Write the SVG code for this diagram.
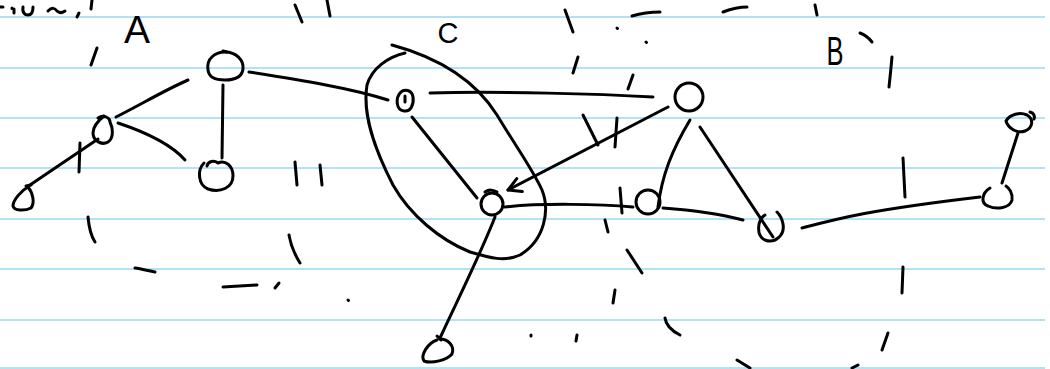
<svg xmlns="http://www.w3.org/2000/svg" width="1050" height="369" viewBox="0 0 1050 369">
<style>
.rule{stroke:#b2e2f4;stroke-width:2;fill:none}
.ink{stroke:#000;stroke-width:3;fill:none;stroke-linecap:round;stroke-linejoin:round}
.lbl{font-family:"Liberation Sans",Arial,sans-serif;fill:#000;text-anchor:middle}
</style>
<defs>
<marker id="arr" markerWidth="20" markerHeight="20" refX="16" refY="10" orient="auto" markerUnits="userSpaceOnUse" overflow="visible">
<path d="M4,2 L16,10 L3,16" stroke="#000" stroke-width="3" fill="none" stroke-linecap="round" stroke-linejoin="round"/>
</marker>
</defs>
<rect width="1050" height="369" fill="#fff"/>
<g id="paper">
<line class="rule" x1="0" y1="17" x2="1045" y2="17"/>
<line class="rule" x1="0" y1="68" x2="1045" y2="68"/>
<line class="rule" x1="0" y1="118" x2="1045" y2="118"/>
<line class="rule" x1="0" y1="168" x2="1045" y2="168"/>
<line class="rule" x1="0" y1="219" x2="1045" y2="219"/>
<line class="rule" x1="0" y1="269" x2="1045" y2="269"/>
<line class="rule" x1="0" y1="320" x2="1045" y2="320"/>
<line class="rule" x1="0" y1="368" x2="1045" y2="368"/>
</g>
<g id="scribble" class="ink">
<path d="M0,7 L3,7"/>
<path d="M12,8 L12,8.5"/>
<path d="M14,9 L14,13"/>
<path d="M23,7 C22,13 25,15 28,15 C32,15 33,12 33,7"/>
<path d="M48,11 C52,7 55,8 57,11 C59,13 62,13 65,11"/>
<path d="M79,13 L77,17"/>
<path d="M92,0 L91,9"/>
</g>
<g id="clusterA">
<g class="ink">
<path d="M97,48 L91,65"/>
<path d="M80,143 L79,172"/>
<path d="M88,217 C89,228 91,236 95,242"/>
<path d="M135,268 C142,269 149,271 155,272"/>
<path d="M223,287 L257,285"/>
<path d="M275,288 L279,283"/>
<path d="M289,235 C291,247 295,255 300,263"/>
<path d="M295,162 L297,185"/>
<path d="M320,165 L322,185"/>
<path d="M295,5 L302,22"/>
<path d="M327,0 L330,16"/>
<path d="M348,300 L348.5,300.5"/>
</g>
<text class="lbl" x="137" y="43" font-size="39">A</text>
</g>
<g id="clusterC">
<path class="ink" d="M392,45 C440,58 475,80 497,115 C515,145 533,170 542,190 C550,210 545,240 520,255 C505,262 490,258 470,252 C440,240 410,215 393,185 C375,150 362,115 367,85 C372,68 388,57 405,53"/>
<text class="lbl" x="448" y="43" font-size="29">C</text>
</g>
<g id="clusterB">
<g class="ink">
<path d="M565,10 L573,32"/>
<path d="M578,57 L573,73"/>
<path d="M617,28 L617.5,28.5"/>
<path d="M646,42 L646.5,42.5"/>
<path d="M632,16 C642,13 650,12 660,12"/>
<path d="M633,75 L628,89"/>
<path d="M583,115 L598,145"/>
<path d="M617,118 L615,147"/>
<path d="M620,188 L622,213"/>
<path d="M605,220 L608,232"/>
<path d="M627,250 L642,273"/>
<path d="M615,290 L613,303"/>
<path d="M531,335 L531,336"/>
<path d="M577,335 L576,341"/>
<path d="M665,318 C666,326 672,331 680,335"/>
<path d="M737,360 L750,368"/>
<path d="M852,368 L858,365"/>
<path d="M888,333 L882,350"/>
<path d="M903,267 L902,293"/>
<path d="M903,158 L905,197"/>
<path d="M892,57 C891,68 890,78 889,87"/>
<path d="M860,33 C865,35 869,38 872,42"/>
<path d="M815,5 L817,15"/>
<path d="M723,12 C731,9 739,7 747,7"/>
</g>
<text class="lbl" x="835" y="65" font-size="40" textLength="17" lengthAdjust="spacingAndGlyphs">B</text>
</g>
<g id="connectors" class="ink">
<path d="M188,80 C165,90 140,105 116,117"/>
<path d="M118,123 C145,132 170,143 185,160"/>
<path d="M223,85 L222,158"/>
<path d="M98,139 L30,185"/>
<path d="M249,72 C300,80 350,88 388,100"/>
<path d="M412,117 L477,198"/>
<path d="M430,93 C500,91 600,94 653,97"/>
<path d="M668,107 L508,190" marker-end="url(#arr)"/>
<path d="M505,207 C540,203 600,204 633,207"/>
<path d="M495,217 C480,255 460,295 440,338"/>
<path d="M690,120 C672,150 662,175 658,207"/>
<path d="M663,208 C690,210 720,214 743,220"/>
<path d="M700,127 L773,237"/>
<path d="M802,228 C840,218 870,210 980,197"/>
<path d="M1018,133 L1002,183"/>
</g>
<g id="nA1" class="ink"><path d="M208,70 C206,58 216,52 225,52 C236,52 244,60 243,69 C242,77 235,80 225,80 C214,80 209,77 208,70 Z"/><path d="M223,51 L227,52"/></g>
<g id="nA2" class="ink"><path d="M98,118 C104,114 110,118 110,122 C113,128 114,138 108,142 C101,146 93,140 93,133 C93,127 99,120 104,116"/></g>
<g id="nA3" class="ink"><path d="M207,166 C208,161 214,160 218,163 C225,160 233,165 233,176 C233,188 220,193 208,189 C198,185 197,170 204,163"/></g>
<g id="nA4" class="ink"><path d="M28,187 C22,190 13,200 13,206 C14,211 25,211 31,208 C35,203 33,193 28,187 Z"/><path d="M26,186 L31,185"/></g>
<g id="nC1" class="ink"><path d="M401,92 C395,98 396,110 404,111 C411,112 414,104 413,97 C412,90 404,88 400,93"/><path d="M405,96 L405,102"/></g>
<g id="nC2" class="ink"><circle cx="492" cy="204" r="11"/><path d="M485,192 C489,189 494,190 497,192"/></g>
<g id="nC3" class="ink"><path d="M440,339 C448,339 455,346 452,354 C447,360 432,364 424,361 C420,355 428,343 437,340"/><path d="M437,336 L441,340"/></g>
<g id="nB1" class="ink"><ellipse cx="689" cy="97" rx="14" ry="14"/></g>
<g id="nB2" class="ink"><circle cx="648" cy="202" r="12"/></g>
<g id="nB3" class="ink"><path d="M765,215 C757,220 756,236 765,240 C775,244 785,235 783,224 C782,218 779,214 777,212"/></g>
<g id="nB4" class="ink"><path d="M990,188 C982,193 980,203 988,206 C997,210 1010,208 1012,200 C1013,193 1009,188 1006,186"/></g>
<g id="nB5" class="ink"><path d="M1006,121 C1010,114 1020,112 1027,115 C1034,119 1033,128 1025,131 C1017,134 1008,128 1006,121 Z"/><path d="M1030,112 C1034,113 1035,116 1034,119"/></g>
</svg>
